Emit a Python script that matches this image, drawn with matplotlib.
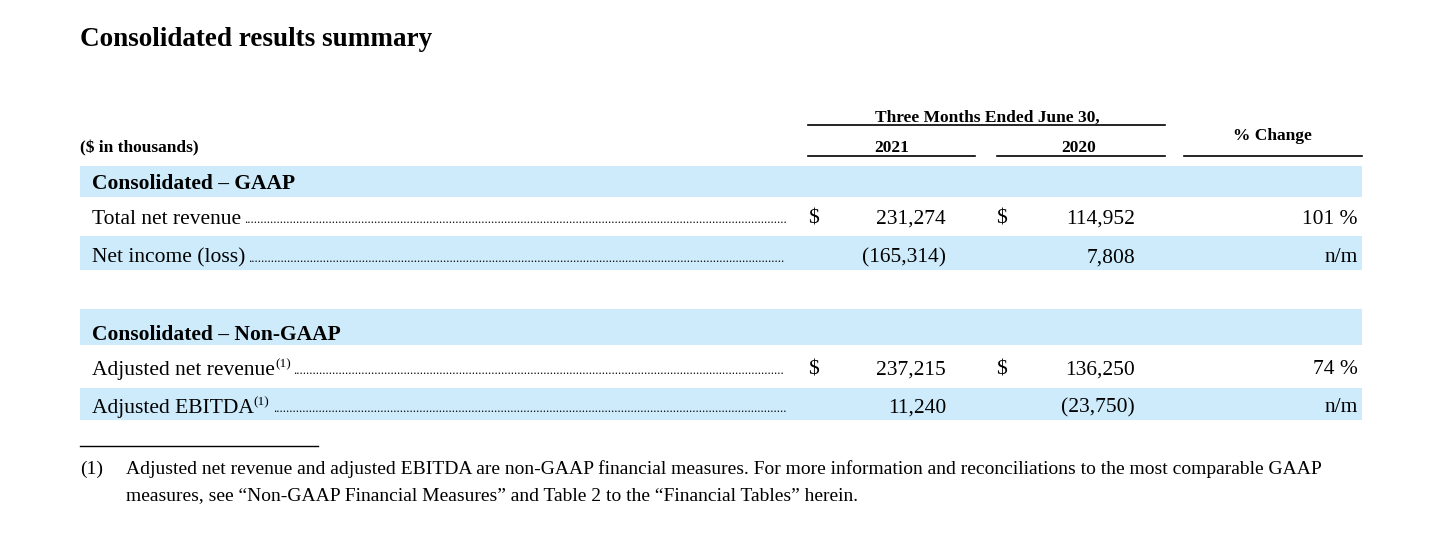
import matplotlib
matplotlib.use('Agg')
import matplotlib.pyplot as plt
from matplotlib.patches import Rectangle

plt.rcParams['font.family'] = ['Liberation Serif', 'DejaVu Serif']

# table data
sections = ['Consolidated \u2013 GAAP', 'Consolidated \u2013 Non-GAAP']
row_labels = [['Total net revenue', 'Net income (loss)'],
              ['Adjusted net revenue', 'Adjusted EBITDA']]
row_notes = [['', ''], ['(1)', '(1)']]
vals_2021 = [['231,274', '(165,314)'], ['237,215', '11,240']]
vals_2020 = [['114,952', '7,808'], ['136,250', '(23,750)']]
pct_change = [['101 %', 'n/m'], ['74 %', 'n/m']]
show_dollar = [[True, False], [True, False]]

W, H = 1442, 538
fig = plt.figure(figsize=(W / 100, H / 100), dpi=100)
ax = fig.add_axes([0, 0, 1, 1])
ax.set_xlim(0, W)
ax.set_ylim(H, 0)
ax.axis('off')

blue = '#CDEBFB'
body = 15.5
hdr = 12.5
dy = 2  # small downward nudge for vertically centred text

ax.text(80, 37 + dy, 'Consolidated results summary', fontsize=19.5, fontweight='bold', va='center')

ax.text(987, 116 + dy, 'Three Months Ended June 30,', fontsize=hdr, fontweight='bold', ha='center', va='center')
ax.plot([808, 1165], [125, 125], color='black', lw=1.2)
ax.text(892, 146 + dy, '2021', fontsize=hdr, fontweight='bold', ha='center', va='center')
ax.text(1079, 146 + dy, '2020', fontsize=hdr, fontweight='bold', ha='center', va='center')
ax.text(1272, 134 + dy, '% Change', fontsize=hdr, fontweight='bold', ha='center', va='center')
ax.text(80, 146 + dy, '($ in thousands)', fontsize=hdr, fontweight='bold', va='center')
for x0, x1 in [(808, 975), (997, 1165), (1184, 1362)]:
    ax.plot([x0, x1], [156, 156], color='black', lw=1.2)

sec_y = [182, 333]
row_y = [[217, 256], [368, 406]]
bands = [(166, 31), (236, 34), (309, 36), (388, 32)]
for y, h in bands:
    ax.add_patch(Rectangle((80, y), 1282, h, color=blue, lw=0))

fig.canvas.draw()
r = fig.canvas.get_renderer()
inv = ax.transData.inverted()

for s, name in enumerate(sections):
    ax.text(92, sec_y[s] + dy, name, fontsize=body, fontweight='bold', va='center')
    for i, lab in enumerate(row_labels[s]):
        y = row_y[s][i] + dy
        t = ax.text(92, y, lab, fontsize=body, va='center')
        end = inv.transform(t.get_window_extent(r).get_points())[1][0]
        if row_notes[s][i]:
            n = ax.text(end, y - 6, row_notes[s][i], fontsize=9.5, va='center')
            end = inv.transform(n.get_window_extent(r).get_points())[1][0]
        d = ax.text(end + 3, y + 1, '.', fontsize=9, va='center')
        dw = inv.transform(d.get_window_extent(r).get_points())
        dw = dw[1][0] - dw[0][0]
        d.set_text('.' * int((787 - end - 3) / dw))
        if show_dollar[s][i]:
            ax.text(808, y, '$', fontsize=body, va='center')
            ax.text(996, y, '$', fontsize=body, va='center')
        ax.text(946, y, vals_2021[s][i], fontsize=body, ha='right', va='center')
        ax.text(1135, y, vals_2020[s][i], fontsize=body, ha='right', va='center')
        ax.text(1358, y, pct_change[s][i], fontsize=body, ha='right', va='center')

ax.plot([80, 318], [446, 446], color='black', lw=1)
ax.text(80, 467 + dy, '(1)', fontsize=14, va='center')
ax.text(126, 467 + dy, 'Adjusted net revenue and adjusted EBITDA are non-GAAP financial measures. For more information and reconciliations to the most comparable GAAP',
        fontsize=14, va='center')
ax.text(126, 494 + dy, 'measures, see \u201cNon-GAAP Financial Measures\u201d and Table 2 to the \u201cFinancial Tables\u201d herein.',
        fontsize=14, va='center')

fig.savefig('out.png', dpi=100)
